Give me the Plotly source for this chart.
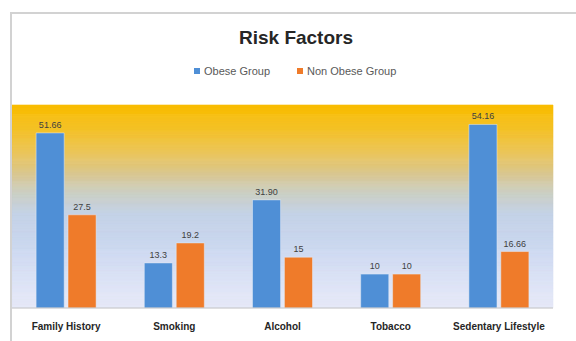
import plotly.graph_objects as go

categories = ["Family History", "Smoking", "Alcohol", "Tobacco", "Sedentary Lifestyle"]
obese = [51.66, 13.3, 31.90, 10, 54.16]
non_obese = [27.5, 19.2, 15, 10, 16.66]
obese_labels = ["51.66", "13.3", "31.90", "10", "54.16"]
non_obese_labels = ["27.5", "19.2", "15", "10", "16.66"]
series_names = ["Obese Group", "Non Obese Group"]

W, H = 576, 341
L, R, T, B = 12, 23, 105, 33
PW, PH = W - L - R, H - T - B


def px_x(x):
    return (x - L) / PW


def px_y(y):
    return (H - B - y) / PH


BLUE = "#4f8fd6"
ORANGE = "#ef7b2a"
FONT = "Liberation Sans, Arial, sans-serif"

fig = go.Figure()
fig.add_trace(go.Bar(
    name=series_names[0], x=categories, y=obese, marker_color=BLUE,
    text=obese_labels, textposition="outside", cliponaxis=False,
    textfont=dict(size=9, color="#404040"),
))
fig.add_trace(go.Bar(
    name=series_names[1], x=categories, y=non_obese, marker_color=ORANGE,
    text=non_obese_labels, textposition="outside", cliponaxis=False,
    textfont=dict(size=9, color="#404040"),
))

# vertical background gradient behind the bars (gold at top -> pale blue at bottom)
stops = [
    (0.00, (250, 189, 0)),
    (0.12, (244, 191, 30)),
    (0.24, (234, 195, 85)),
    (0.34, (218, 200, 145)),
    (0.44, (202, 206, 196)),
    (0.54, (193, 208, 230)),
    (0.74, (207, 218, 242)),
    (1.00, (230, 233, 248)),
]


def grad(t):
    for (t0, c0), (t1, c1) in zip(stops, stops[1:]):
        if t0 <= t <= t1:
            f = (t - t0) / (t1 - t0)
            return tuple(round(a + (b - a) * f) for a, b in zip(c0, c1))
    return stops[-1][1]


shapes = []
n = 200
for i in range(n):
    t = (i + 0.5) / n
    r, g, b = grad(t)
    shapes.append(dict(
        type="rect", xref="paper", yref="paper", layer="below",
        x0=0, x1=1, y0=1 - (i + 1) / n, y1=1 - i / n,
        fillcolor=f"rgb({r},{g},{b})", line=dict(width=0.6, color=f"rgb({r},{g},{b})"),
    ))

# baseline
shapes.append(dict(type="line", xref="paper", yref="paper", x0=0, x1=1, y0=0, y1=0,
                   line=dict(color="#c4c4c4", width=1)))
# chart frame
shapes.append(dict(type="rect", xref="paper", yref="paper",
                   x0=px_x(11), x1=px_x(W + 5), y0=px_y(H + 5), y1=px_y(13),
                   line=dict(color="#d2d2d2", width=2), fillcolor="rgba(0,0,0,0)"))

# compact legend: small square swatch followed by its label
annotations = []
legend_y = 71
for name, color, x0 in zip(series_names, [BLUE, ORANGE], [194, 297]):
    shapes.append(dict(type="rect", xref="paper", yref="paper",
                       x0=px_x(x0), x1=px_x(x0 + 6),
                       y0=px_y(legend_y + 3), y1=px_y(legend_y - 3),
                       fillcolor=color, line=dict(width=0)))
    annotations.append(dict(text=name, xref="paper", yref="paper",
                            x=px_x(x0 + 8), y=px_y(legend_y),
                            xanchor="left", yanchor="middle", showarrow=False,
                            font=dict(size=11, color="#595959", family=FONT)))

fig.update_layout(
    width=W, height=H,
    margin=dict(l=L, r=R, t=T, b=B),
    paper_bgcolor="white",
    plot_bgcolor="rgba(0,0,0,0)",
    font=dict(family=FONT, color="#404040"),
    barmode="group", bargap=0.41, bargroupgap=0.12,
    shapes=shapes,
    annotations=annotations,
    title=dict(text="Risk Factors", x=296 / W, xanchor="center",
               y=1 - 37 / H, yanchor="middle",
               font=dict(size=19, color="#262626", weight="bold")),
    showlegend=False,
)
fig.update_xaxes(showgrid=False, showline=False, ticks="", ticklabelstandoff=11,
                 automargin=False,
                 tickfont=dict(size=10, color="#262626", weight="bold"))
fig.update_yaxes(range=[0, 59.9], visible=False, showgrid=False, automargin=False)

fig.write_html("out.html")
